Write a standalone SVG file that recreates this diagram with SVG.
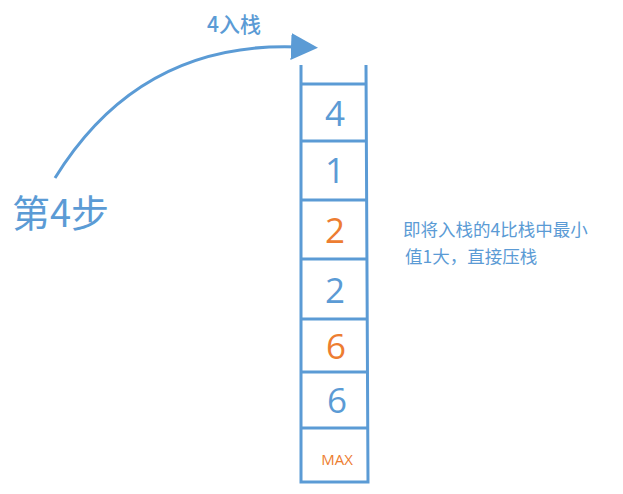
<svg xmlns="http://www.w3.org/2000/svg" width="623" height="494" viewBox="0 0 623 494">
<style>
.l{stroke:#5b9bd5;stroke-width:3;fill:none}
.t{font-family:"Open Sans","Noto Sans",sans-serif;text-anchor:middle}
.c{font-family:"Noto Sans CJK SC",sans-serif}
.b{fill:#5b9bd5}.o{fill:#ed7d31}
</style>
<defs><marker id="a" markerWidth="9" markerHeight="9" refX="3" refY="4.5" orient="auto" markerUnits="strokeWidth"><path d="M0,0L9,4.5L0,9z" fill="#5b9bd5"/></marker></defs>
<g id="connectors"><path class="l" d="M55,178 Q140,40 300,47" marker-end="url(#a)"/></g>
<g id="stack">
<path class="l" d="M301,65V482H368L366,65M301,84H366M301,141H367M301,200H367M301,259H367M301,319H367M301,372H367M301,428H367"/>
<text class="t b" x="335" y="126" font-size="35">4</text>
<text class="t b" x="335" y="183" font-size="35">1</text>
<text class="t o" x="335" y="243" font-size="35">2</text>
<text class="t b" x="335" y="303" font-size="35">2</text>
<text class="t o" x="336" y="359" font-size="35">6</text>
<text class="t b" x="337" y="413" font-size="35">6</text>
<text class="t o" x="337" y="465" font-size="15">MAX</text>
</g>
<g id="labels">
<text class="c b" x="207" y="32" font-size="21" font-weight="500">4入栈</text>
<text class="c b" x="12" y="227" font-size="38">第4步</text>
<text class="c b" x="403" y="236" font-size="17.5">即将入栈的4比栈中最小</text>
<text class="c b" x="405" y="263" font-size="17.5">值1大，直接压栈</text>
</g>
</svg>
